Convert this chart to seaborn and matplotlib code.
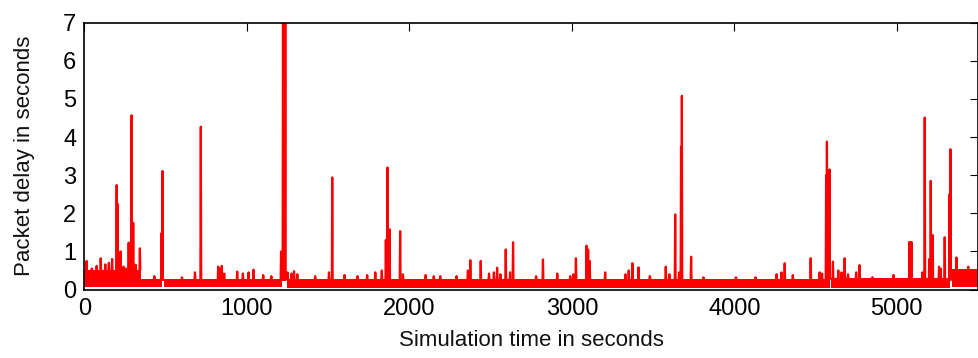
import matplotlib
matplotlib.use("Agg")
import matplotlib.pyplot as plt
import seaborn as sns
import pandas as pd

# --- data ---
# dense baseline band segments (start s, end s, low delay, high delay)
band_start = [0, 345, 487, 1244, 4594, 5338]
band_end = [345, 477, 1214, 4589, 5329, 5500]
band_low = [0.07, 0.06, 0.06, 0.05, 0.05, 0.07]
band_high = [0.52, 0.28, 0.28, 0.28, 0.30, 0.55]

# spikes: time (s) and peak delay (s)
spike_time = [13, 45, 75, 100, 128, 150, 170, 198, 203, 222, 240, 255, 272, 290, 300, 315, 341,
              430, 474, 480, 600, 680, 716, 823, 835, 845, 860, 940, 975, 1010, 1040, 1100, 1150,
              1210, 1222, 1236, 1250, 1275, 1290, 1310, 1420, 1505, 1525, 1600, 1680, 1740, 1790,
              1830, 1855, 1865, 1878, 1943, 1960, 2100, 2150, 2190, 2290, 2360, 2375, 2439, 2490,
              2520, 2540, 2560, 2593, 2620, 2638, 2780, 2822, 2910, 2990, 3010, 3025, 3090, 3100,
              3110, 3205, 3330, 3350, 3373, 3410, 3480, 3578, 3600, 3636, 3660, 3672, 3677, 3734,
              3810, 4010, 4130, 4260, 4290, 4310, 4360, 4470, 4525, 4540, 4565, 4570, 4580, 4586,
              4607, 4640, 4660, 4679, 4700, 4750, 4771, 4850, 4980, 5078, 5090, 5158, 5172, 5200,
              5209, 5221, 5260, 5270, 5295, 5325, 5330, 5367, 5440]
spike_peak = [0.75, 0.55, 0.62, 0.82, 0.66, 0.70, 0.80, 2.74, 2.25, 1.00, 0.60, 0.55, 1.23, 4.57, 1.75, 0.65, 1.08,
              0.35, 1.48, 3.11, 0.32, 0.45, 4.27, 0.60, 0.55, 0.62, 0.42, 0.47, 0.42, 0.45, 0.52, 0.38, 0.35,
              1.00, 7.50, 7.50, 0.45, 0.42, 0.48, 0.40, 0.35, 0.45, 2.94, 0.38, 0.35, 0.38, 0.45,
              0.50, 1.30, 3.20, 1.58, 1.53, 0.40, 0.38, 0.35, 0.35, 0.35, 0.50, 0.77, 0.75, 0.42,
              0.45, 0.57, 0.40, 1.05, 0.45, 1.24, 0.35, 0.79, 0.42, 0.35, 0.40, 0.82, 1.15, 1.05,
              0.75, 0.45, 0.40, 0.50, 0.69, 0.58, 0.35, 0.60, 0.40, 1.97, 0.45, 3.75, 5.08, 0.86,
              0.32, 0.32, 0.32, 0.40, 0.45, 0.69, 0.38, 0.82, 0.45, 0.42, 3.00, 3.88, 2.00, 3.15,
              0.73, 0.50, 0.45, 0.82, 0.40, 0.45, 0.64, 0.32, 0.38, 1.25, 1.25, 0.45, 4.51, 0.80,
              2.85, 1.43, 0.60, 0.55, 1.37, 2.50, 3.68, 0.84, 0.60]

x_ticks = [0, 1000, 2000, 3000, 4000, 5000]
y_ticks = [0, 1, 2, 3, 4, 5, 6, 7]
x_label = "Simulation time in seconds"
y_label = "Packet delay in seconds"

# --- plotting ---
sns.set_theme(style="white")
plt.rcParams['font.family'] = ['Liberation Sans', 'DejaVu Sans']

RED = "#ff0000"
fig = plt.figure(figsize=(9.79, 3.58), dpi=100)
ax = fig.add_axes([0.0863, 0.1913, 0.9127, 0.7453])

for s, e, lo, hi in zip(band_start, band_end, band_low, band_high):
    ax.fill_between([s, e], [lo, lo], [hi, hi], color=RED, linewidth=0)

def base_at(t):
    for s, e, lo, hi in zip(band_start, band_end, band_low, band_high):
        if s <= t <= e:
            return hi
    return 0.25

hw = 2.5
rows = []
for i, (t, p) in enumerate(zip(spike_time, spike_peak)):
    b = base_at(t)
    rows += [(i, t - hw, b), (i, t, p), (i, t + hw, b)]
df = pd.DataFrame(rows, columns=["id", "time", "delay"])
sns.lineplot(data=df, x="time", y="delay", units="id", estimator=None,
             color=RED, linewidth=1.6, ax=ax, legend=False)

ax.set_xlim(0, 5500)
ax.set_ylim(0, 7)
ax.set_xticks(x_ticks)
ax.set_yticks(y_ticks)
ax.set_xlabel(x_label, fontsize=16, color="#111111", labelpad=7)
ax.set_ylabel(y_label, fontsize=16, color="#111111", labelpad=20)
ax.tick_params(direction="in", length=6, width=0.8, top=True, right=True,
               labelsize=17, colors="black", pad=6)
for sp in ax.spines.values():
    sp.set_visible(True)
    sp.set_color("black")
    sp.set_linewidth(1.2)

fig.savefig("out.png", dpi=100)
